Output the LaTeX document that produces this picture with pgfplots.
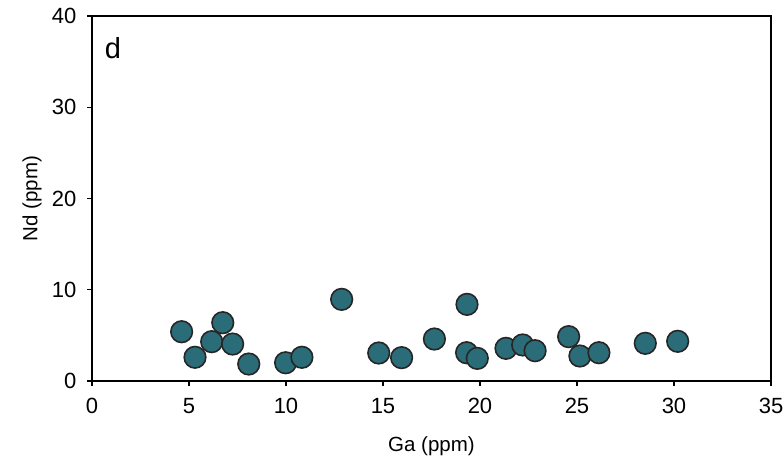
\documentclass[border=0pt]{standalone}
\usepackage{pgfplots}
\pgfplotsset{compat=1.18}
\usepackage{fontspec}
\setmainfont{Liberation Sans}
\definecolor{teal1}{HTML}{2B6C79}
\definecolor{edge1}{HTML}{262626}
\begin{document}
\begin{tikzpicture}[x=1pt,y=1pt]
\begin{axis}[
  at={(0,0)}, anchor=south west,
  scale only axis, width=679pt, height=365pt,
  xmin=0, xmax=35, ymin=0, ymax=40,
  xtick={0,5,...,35}, ytick={0,10,20,30,40},
  tick pos=left, tick align=outside, major tick length=5pt,
  axis line style={line width=1.4pt}, tick style={line width=1.2pt, black},
  /pgf/number format/assume math mode=true,
  ticklabel style={font=\fontsize{22}{25}\selectfont},
  xticklabel style={yshift=-9pt},
  yticklabel style={xshift=-7pt},
  xlabel={Ga (ppm)}, ylabel={Nd (ppm)},
  label style={font=\fontsize{20.5}{24}\selectfont},
  xlabel style={at={(axis description cs:0.5,0)}, anchor=center, yshift=-65pt},
  ylabel style={at={(axis description cs:0,0.5)}, anchor=center, rotate=0, yshift=60pt},
  clip=false,
]
\addplot[only marks, mark=*, mark size=10.8pt, mark options={fill=teal1, draw=edge1, line width=1.6pt}]
coordinates {
(4.62,5.40) (5.31,2.60) (6.17,4.31) (6.74,6.39) (7.25,4.05) (8.08,1.86)
(9.98,2.00) (10.82,2.60) (12.87,8.95) (14.78,3.07) (15.96,2.56) (17.65,4.60)
(19.33,8.40) (19.31,3.10) (19.86,2.48) (21.34,3.58) (22.20,3.95) (22.84,3.32)
(24.57,4.86) (25.15,2.74) (26.13,3.10) (28.52,4.13) (30.19,4.35)
};
\node[font=\fontsize{29}{32}\selectfont] at (axis cs:1.08,36.5) {d};
\end{axis}
\pgfresetboundingbox
\path[use as bounding box] (-92,-80) rectangle (692,381);
\end{tikzpicture}
\end{document}
